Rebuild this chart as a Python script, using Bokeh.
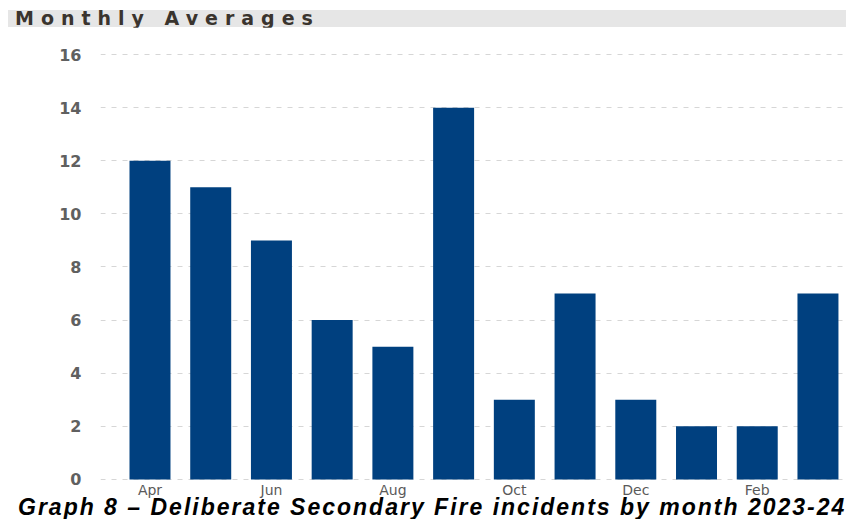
from bokeh.plotting import figure
from bokeh.models import Div, FixedTicker, Range1d
from bokeh.layouts import column
from bokeh.embed import file_html
from bokeh.resources import INLINE

# ---- data ----
months = ["Apr", "May", "Jun", "Jul", "Aug", "Sep", "Oct", "Nov", "Dec", "Jan", "Feb", "Mar"]
incidents = [12, 11, 9, 6, 5, 14, 3, 7, 3, 2, 2, 7]
y_ticks = [0, 2, 4, 6, 8, 10, 12, 14, 16]
title_text = "Monthly Averages"
caption_text = "Graph 8 \u2013 Deliberate Secondary Fire incidents by month 2023-24"

idx = list(range(len(months)))
shown_ticks = idx[::2]
overrides = {i: months[i] for i in shown_ticks}

title_div = Div(
    text=title_text, width=838, height=17, margin=(10, 0, 0, 8),
    styles={
        "background-color": "#e6e6e6",
        "font-family": "DejaVu Sans",
        "font-weight": "bold",
        "font-size": "19px",
        "letter-spacing": "7px",
        "line-height": "17px",
        "color": "#3a342e",
        "padding-left": "7px",
        "white-space": "nowrap",
        "box-sizing": "border-box",
    },
)

p = figure(
    width=846, height=474, output_backend="svg", toolbar_location=None,
    x_range=Range1d(-0.815, 11.47), y_range=Range1d(-0.23, 16.04),
    min_border_left=100, min_border_right=0, min_border_top=26, min_border_bottom=16,
    margin=(0, 0, 0, 0),
)
p.outline_line_color = None
p.background_fill_color = "white"
p.border_fill_color = "white"

p.vbar(x=idx, top=incidents, width=0.675, fill_color="#00407f", line_color=None)

p.xgrid.grid_line_color = None
p.ygrid.grid_line_color = "#d6d6d6"
p.ygrid.grid_line_dash = "5 6"
p.ygrid.ticker = FixedTicker(ticks=y_ticks)

p.yaxis.ticker = FixedTicker(ticks=y_ticks)
p.xaxis.ticker = FixedTicker(ticks=shown_ticks)
p.xaxis.major_label_overrides = overrides

for ax in (p.xaxis[0], p.yaxis[0]):
    ax.axis_line_color = None
    ax.major_tick_line_color = None
    ax.minor_tick_line_color = None
    ax.major_tick_in = 0
    ax.major_tick_out = 0
    ax.minor_tick_in = 0
    ax.minor_tick_out = 0
    ax.major_label_text_font = "DejaVu Sans"
    ax.major_label_text_font_size = "16px"
    ax.major_label_text_color = "#5a5a5a"
p.xaxis.major_label_text_font_size = "14px"
p.yaxis.major_label_text_font_style = "bold"
p.yaxis.major_label_text_color = "#606060"
p.yaxis.major_label_standoff = 19
p.xaxis.major_label_standoff = -4

caption_div = Div(
    text=caption_text, width=854, height=18, margin=(0, 0, 0, 0),
    styles={
        "font-family": "Liberation Sans",
        "font-weight": "bold",
        "font-style": "italic",
        "font-size": "23px",
        "letter-spacing": "2px",
        "line-height": "13px",
        "color": "#000000",
        "padding-left": "18px",
        "white-space": "nowrap",
        "box-sizing": "border-box",
    },
)

layout = column(title_div, p, caption_div, spacing=0)
open("out.html", "w").write(file_html(layout, INLINE))
